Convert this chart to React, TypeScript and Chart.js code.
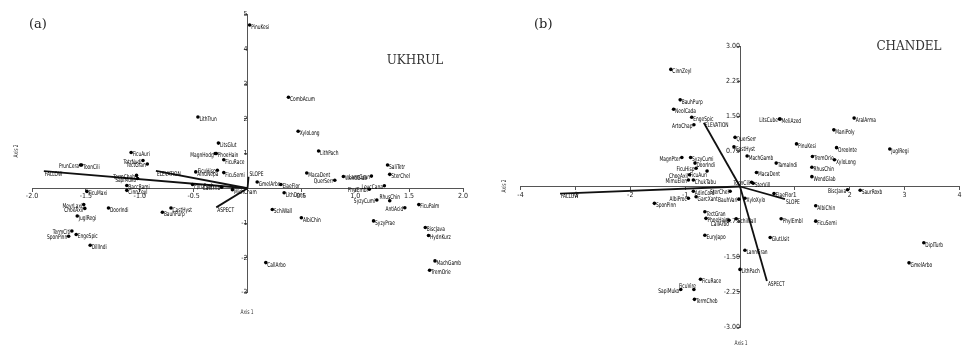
import React, { useEffect, useRef } from "react";
import { Chart, registerables } from "chart.js";

Chart.register(...registerables);

// ---------------- Panel (a) UKHRUL ----------------
const SPECIES_A = [
  "PinuKesi", "CombAcum", "XyloLong", "LithPach", "SaliTetr", "SterChel", "LannGran", "WendGlab",
  "QuerSerr", "MacaDent", "LeucCana", "PhylEmbl", "SyzyCumi", "RhusChin", "AntiAcid", "FicuPalm",
  "SyzyPrae", "BiscJava", "HydnKurz", "MachGamb", "TremOrie", "CallArbo", "SchiWall", "AlbiChin",
  "LithDens", "ElaeFlor", "GmelArbo", "MichCham", "FicuSemi", "FicuHisp", "AlnuNepa", "LithTrun",
  "LitsGlut", "MagnHodg", "PhoeHain", "FicuRace", "FicuAuri", "TetrNudi", "TectGran", "PrunCera",
  "ToonCili", "TermCheb", "SapiMuko", "BaccRami", "CinnZeyl", "FicuMaxi", "MeyrLaxi", "ChoeAxil",
  "JuglRegi", "DoorIndi", "CastHyst", "BauhPurp", "TermCiti", "EngeSpic", "SponPinn", "DillIndi",
  "PyruPash", "CastTrib",
];
const AXIS1_A = [
  0.02, 0.38, 0.47, 0.66, 1.30, 1.32, 1.15, 0.89,
  0.81, 0.55, 1.27, 1.13, 1.20, 1.32, 1.46, 1.59,
  1.17, 1.65, 1.68, 1.74, 1.69, 0.17, 0.23, 0.50,
  0.34, 0.31, 0.09, -0.14, -0.22, -0.28, -0.48, -0.46,
  -0.27, -0.30, -0.29, -0.22, -1.08, -0.97, -0.93, -1.55,
  -1.54, -1.03, -1.02, -1.12, -1.12, -1.49, -1.52, -1.51,
  -1.58, -1.29, -0.71, -0.79, -1.63, -1.59, -1.66, -1.46,
  -0.51, -0.24,
];
const AXIS2_A = [
  4.70, 2.62, 1.64, 1.07, 0.67, 0.40, 0.35, 0.34,
  0.23, 0.44, 0.07, -0.03, -0.34, -0.36, -0.56, -0.47,
  -0.94, -1.13, -1.36, -2.09, -2.36, -2.14, -0.61, -0.85,
  -0.13, 0.11, 0.18, -0.04, 0.45, 0.52, 0.47, 2.05,
  1.30, 1.00, 1.00, 0.82, 1.03, 0.80, 0.70, 0.67,
  0.67, 0.37, 0.28, 0.08, -0.06, -0.09, -0.47, -0.58,
  -0.80, -0.57, -0.57, -0.69, -1.23, -1.33, -1.38, -1.64,
  0.11, 0.03,
];
const LABEL_SIDE_A: Record<string, string> = {
  LannGran: "l", QuerSerr: "l", LeucCana: "l", PhylEmbl: "l", SyzyCumi: "l", RhusChin: "a",
  AntiAcid: "l", FicuHisp: "l", MagnHodg: "l", TetrNudi: "l", TectGran: "l", PrunCera: "l",
  TermCheb: "l", SapiMuko: "l", MeyrLaxi: "l", ChoeAxil: "l", TermCiti: "l", SponPinn: "l",
  CastTrib: "l",
};
const VECTORS_A = ["FALLOW", "ELEVATION", "ASPECT", "SLOPE"];
const VEC1_A = [-1.89, -0.85, -0.29, 0.01];
const VEC2_A = [0.49, 0.5, -0.55, 0.33];

// ---------------- Panel (b) CHANDEL ----------------
const SPECIES_B = [
  "CinnZeyl", "BauhPurp", "NeolCada", "EngeSpic", "ArtoChap", "QuerSerr", "CastHyst", "MachGamb",
  "MagnPter", "SyzyCumi", "DoorIndi", "FicuHisp", "FicuAuri", "ChoeAxil", "MimuElen", "ChukTabu",
  "ToonCili", "SterVill", "ElaeFlor", "AdinCord", "SterChel", "GarcXant", "AlbiProc", "SponPinn",
  "BauhVari", "XyloXylo", "TectGran", "PhoeHain", "CallArbo", "SchiWall", "EuryJapo", "PhylEmbl",
  "GlutUsit", "LannGran", "LithPach", "FicuRace", "FicuVire", "SapiMuko", "TermCheb", "AlbiChin",
  "FicuSemi", "DiplTurb", "GmelArbo", "BiscJava", "SaurRoxb", "LitsCube", "MeliAzed", "AralArma",
  "ManiPoly", "PinuKesi", "OreoInte", "JuglRegi", "TremOrie", "XyloLong", "RhusChin", "WendGlab",
  "TamaIndi", "MacaDent",
];
const AXIS1_B = [
  -1.26, -1.09, -1.21, -0.88, -0.84, -0.09, -0.11, 0.13,
  -1.06, -0.90, -0.82, -0.80, -0.60, -0.92, -0.94, -0.85,
  0.21, 0.24, 0.62, -0.85, -0.18, -0.80, -0.94, -1.56,
  -0.02, 0.09, -0.64, -0.62, -0.20, -0.07, -0.64, 0.75,
  0.55, 0.09, 0.00, -0.72, -0.84, -1.08, -0.83, 1.38,
  1.38, 3.35, 3.08, 1.96, 2.19, 0.72, 0.73, 2.08,
  1.71, 1.03, 1.76, 2.73, 1.32, 1.72, 1.31, 1.31,
  0.66, 0.30,
];
const AXIS2_B = [
  2.50, 1.85, 1.65, 1.48, 1.32, 1.05, 0.85, 0.65,
  0.62, 0.62, 0.50, 0.39, 0.33, 0.25, 0.14, 0.14,
  0.09, 0.07, -0.15, -0.10, -0.10, -0.22, -0.25, -0.36,
  -0.27, -0.25, -0.54, -0.68, -0.72, -0.69, -1.04, -0.69,
  -1.09, -1.36, -1.77, -1.98, -2.20, -2.20, -2.41, -0.41,
  -0.74, -1.20, -1.63, -0.07, -0.08, 1.44, 1.44, 1.46,
  1.21, 0.91, 0.83, 0.80, 0.64, 0.57, 0.41, 0.21,
  0.50, 0.30,
];
const LABEL_SIDE_B: Record<string, string> = {
  ArtoChap: "l", MagnPter: "l", FicuHisp: "l", FicuAuri: "bl", ChoeAxil: "l", MimuElen: "l",
  ToonCili: "l", SterChel: "l", AlbiProc: "l", BauhVari: "l", CallArbo: "bl", FicuVire: "al",
  SapiMuko: "l", BiscJava: "l", LitsCube: "l",
};
const VECTORS_B = ["FALLOW", "ELEVATION", "ASPECT", "SLOPE"];
const VEC1_B = [-3.28, -0.66, 0.49, 0.82];
const VEC2_B = [-0.15, 1.36, -2.02, -0.27];

const LABEL_FONT = "'Liberation Sans Narrow', 'Arial Narrow', 'DejaVu Sans Condensed', 'Roboto Condensed', Roboto, sans-serif";
const SERIF = "'DejaVu Serif', 'Liberation Serif', serif";

type PanelCfg = {
  names: string[]; xs: number[]; ys: number[]; sides: Record<string, string>;
  vecNames: string[]; vx: number[]; vy: number[];
  xMin: number; xMax: number; xStep: number; xDec: number;
  yMin: number; yMax: number; yStep: number; yDec: number;
  width: number; padding: { left: number; right: number; top: number; bottom: number };
  tag: string; tagPos: [number, number]; title: string; titlePos: [number, number];
  ax2Pos: [number, number]; ax1Pos: [number, number];
};

function drawCondensed(ctx: CanvasRenderingContext2D, text: string, x: number, y: number, align: CanvasTextAlign, sx: number) {
  ctx.save();
  ctx.translate(x, y);
  ctx.scale(sx, 1);
  ctx.textAlign = align;
  ctx.fillText(text, 0, 0);
  ctx.restore();
}

function makePlugin(cfg: PanelCfg) {
  return {
    id: "biplotText",
    afterDatasetsDraw(chart: any) {
      const { ctx } = chart;
      const xs = chart.scales.x;
      const ys = chart.scales.y;
      ctx.save();
      ctx.font = `6.5px ${LABEL_FONT}`;
      const sx = Math.min(1, 18 / ctx.measureText("PinuKesi").width);
      ctx.fillStyle = "#000";
      ctx.textBaseline = "middle";
      cfg.names.forEach((n, i) => {
        const px = xs.getPixelForValue(cfg.xs[i]);
        const py = ys.getPixelForValue(cfg.ys[i]);
        const side = cfg.sides[n] || "r";
        if (side === "l") drawCondensed(ctx, n, px - 1.5, py + 1.5, "right", sx);
        else if (side === "a") drawCondensed(ctx, n, px, py - 3.5, "center", sx);
        else if (side === "bl") drawCondensed(ctx, n, px, py + 4.5, "right", sx);
        else if (side === "al") drawCondensed(ctx, n, px + 2, py - 3, "right", sx);
        else drawCondensed(ctx, n, px + 1.5, py + 2.2, "left", sx);
      });
      cfg.vecNames.forEach((n, i) => {
        const px = xs.getPixelForValue(cfg.vx[i]);
        const py = ys.getPixelForValue(cfg.vy[i]);
        const dy = cfg.vy[i] > 0.2 && Math.abs(cfg.vx[i]) < 0.1 ? -2 : 3;
        drawCondensed(ctx, n, px + 1, py + dy, "left", sx);
      });
      // axis titles
      ctx.fillStyle = "#333";
      drawCondensed(ctx, "Axis 1", cfg.ax1Pos[0], cfg.ax1Pos[1], "center", sx);
      ctx.save();
      ctx.translate(cfg.ax2Pos[0], cfg.ax2Pos[1]);
      ctx.rotate(-Math.PI / 2);
      drawCondensed(ctx, "Axis 2", 0, 0, "center", sx);
      ctx.restore();
      // panel tag and title
      ctx.fillStyle = "#222";
      ctx.font = `13px ${SERIF}`;
      ctx.textAlign = "left";
      ctx.fillText(cfg.tag, cfg.tagPos[0], cfg.tagPos[1]);
      ctx.font = `12px ${SERIF}`;
      ctx.fillStyle = "#333";
      ctx.textAlign = "center";
      ctx.fillText(cfg.title, cfg.titlePos[0], cfg.titlePos[1]);
      ctx.restore();
    },
  };
}

function Panel({ cfg, left }: { cfg: PanelCfg; left: number }) {
  const ref = useRef<HTMLCanvasElement | null>(null);
  useEffect(() => {
    if (!ref.current) return;
    const points = cfg.xs.map((x, i) => ({ x, y: cfg.ys[i] }));
    const vecSets = cfg.vecNames.map((n, i) => ({
      label: n,
      data: [{ x: 0, y: 0 }, { x: cfg.vx[i], y: cfg.vy[i] }],
      showLine: true,
      borderColor: "#111",
      borderWidth: 1.8,
      pointRadius: 0,
      fill: false,
    }));
    const fmt = (dec: number) => (v: any) => {
      const n = Number(v);
      if (Math.abs(n) < 1e-9) return "";
      return n.toFixed(dec);
    };
    const tickFont = { size: 7, family: LABEL_FONT };
    const chart = new Chart(ref.current, {
      type: "scatter",
      data: {
        datasets: [
          {
            label: "species",
            data: points,
            pointRadius: 1.8,
            pointBackgroundColor: "#000",
            pointBorderWidth: 0,
            showLine: false,
          } as any,
          ...(vecSets as any[]),
        ],
      },
      options: {
        animation: false,
        responsive: false,
        maintainAspectRatio: false,
        events: [],
        layout: { padding: cfg.padding },
        plugins: { legend: { display: false }, tooltip: { enabled: false } },
        scales: {
          x: {
            type: "linear",
            position: { y: 0 } as any,
            min: cfg.xMin,
            max: cfg.xMax,
            grid: { display: true, drawOnChartArea: false, drawTicks: true, tickLength: 3, color: "#555" },
            border: { display: true, color: "#555", width: 1 },
            ticks: { stepSize: cfg.xStep, autoSkip: false, maxRotation: 0, padding: 1, color: "#222", font: tickFont, callback: fmt(cfg.xDec) },
          },
          y: {
            type: "linear",
            position: { x: 0 } as any,
            min: cfg.yMin,
            max: cfg.yMax,
            grid: { display: true, drawOnChartArea: false, drawTicks: true, tickLength: 3, color: "#555" },
            border: { display: true, color: "#555", width: 1 },
            ticks: { stepSize: cfg.yStep, autoSkip: false, padding: 1, color: "#222", font: tickFont, callback: fmt(cfg.yDec) },
          },
        },
      } as any,
      plugins: [makePlugin(cfg)],
    });
    return () => chart.destroy();
  }, [cfg]);
  return (
    <canvas
      ref={ref}
      width={cfg.width}
      height={345}
      style={{ position: "absolute", left, top: 0, width: cfg.width, height: 345 }}
    />
  );
}

const PANEL_A: PanelCfg = {
  names: SPECIES_A, xs: AXIS1_A, ys: AXIS2_A, sides: LABEL_SIDE_A,
  vecNames: VECTORS_A, vx: VEC1_A, vy: VEC2_A,
  xMin: -2, xMax: 2, xStep: 0.5, xDec: 1,
  yMin: -3, yMax: 5, yStep: 1, yDec: 0,
  width: 490, padding: { left: 32, right: 27, top: 14.5, bottom: 52.5 },
  tag: "(a)", tagPos: [29, 25], title: "UKHRUL", titlePos: [415, 61],
  ax2Pos: [16, 151], ax1Pos: [247, 312],
};

const PANEL_B: PanelCfg = {
  names: SPECIES_B, xs: AXIS1_B, ys: AXIS2_B, sides: LABEL_SIDE_B,
  vecNames: VECTORS_B, vx: VEC1_B, vy: VEC2_B,
  xMin: -4, xMax: 4, xStep: 1, xDec: 0,
  yMin: -3, yMax: 3, yStep: 0.75, yDec: 2,
  width: 475, padding: { left: 30.5, right: 5.5, top: 46, bottom: 18 },
  tag: "(b)", tagPos: [44, 25], title: "CHANDEL", titlePos: [419, 47],
  ax2Pos: [14, 186], ax1Pos: [251, 343],
};

export default function App() {
  return (
    <div style={{ position: "absolute", left: 0, top: 0, width: 965, height: 345, background: "#fff", overflow: "hidden" }}>
      <Panel cfg={PANEL_A} left={0} />
      <Panel cfg={PANEL_B} left={490} />
    </div>
  );
}
